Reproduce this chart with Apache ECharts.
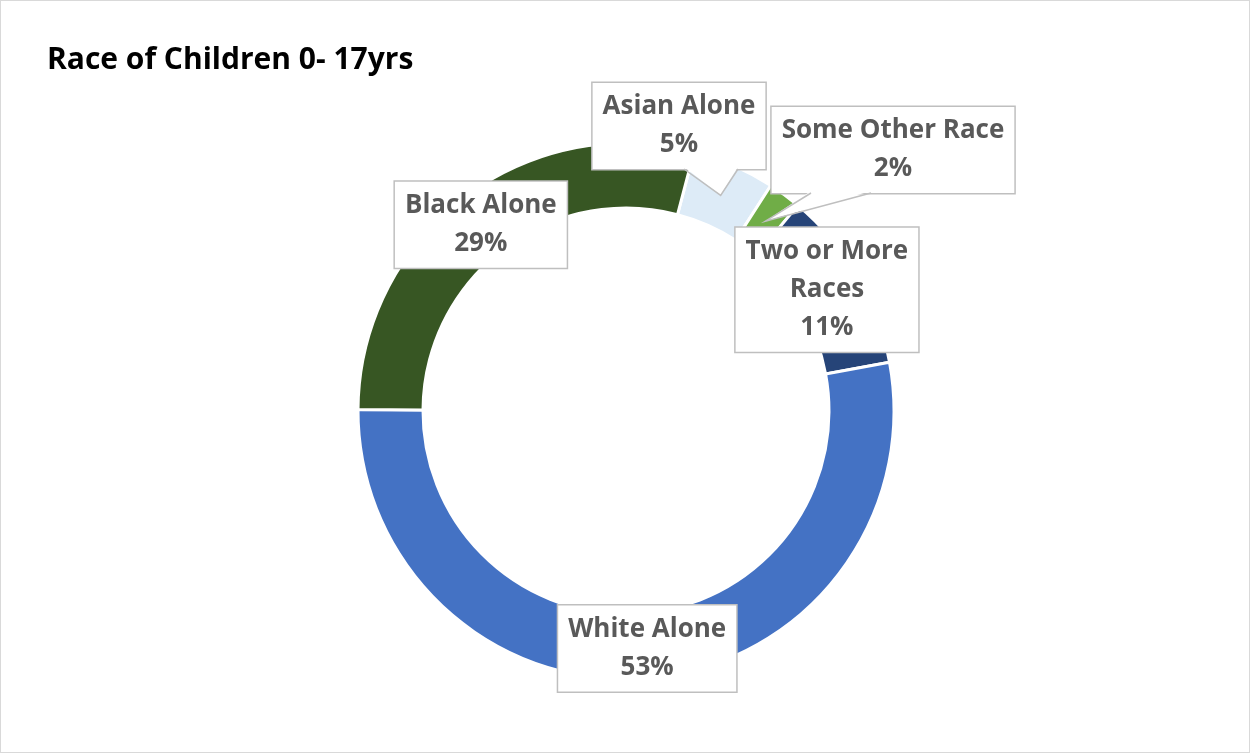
<!DOCTYPE html>
<html>
<head>
<meta charset="utf-8">
<script src="https://cdn.jsdelivr.net/npm/echarts@6/dist/echarts.min.js"></script>
<style>
html,body{margin:0;padding:0;background:#fff;}
#wrap{position:absolute;left:0;top:0;width:1250px;height:753px;box-sizing:border-box;border:1px solid #d9d9d9;}
#chart{width:100%;height:100%;}
</style>
</head>
<body>
<div id="wrap"><div id="chart"></div></div>
<script>
// Data (clockwise order starting near 12 o'clock)
const categories = ["Asian Alone", "Some Other Race", "Two or More Races", "White Alone", "Black Alone"];
const labelText = ["Asian Alone", "Some Other Race", "Two or More\nRaces", "White Alone", "Black Alone"];
const values = [5, 2, 11, 53, 29];
const colors = ["#DDEBF7", "#70AD47", "#264478", "#4472C4", "#375623"];
const title = "Race of Children 0- 17yrs";

const FONT = "'Open Sans', 'Noto Sans', sans-serif";

// geometry / layout settings
const CENTER = [625, 410];
const RADIUS = [203, 268];
const START_ANGLE = 75.3;
const LINE_H = 38, PAD_V = 5;
// callout labels: box centre, and pointer base offsets (x, from box centre)
const callouts = {
  0: {x: 678, y: 125, base: [5, 59]},
  1: {x: 892, y: 149, base: [-82, -22]}
};
const nudges = {2: [-5, -1], 4: [0, 3]};

const total = values.reduce((a, b) => a + b, 0);
function midPoint(idx) {
  let cum = 0;
  for (let i = 0; i < idx; i++) cum += values[i];
  const frac = (cum + values[idx] / 2) / total;
  const ang = (START_ANGLE - frac * 360) * Math.PI / 180;
  const r = (RADIUS[0] + RADIUS[1]) / 2;
  return [CENTER[0] + r * Math.cos(ang), CENTER[1] - r * Math.sin(ang)];
}

// callout pointers (wedges from label box to the slice)
const pointerGraphics = [];
Object.keys(callouts).forEach(k => {
  const i = +k, o = callouts[k];
  const lines = labelText[i].split('\n').length + 1;
  const bottom = o.y + (lines * LINE_H + 2 * PAD_V) / 2;
  const tip = midPoint(i);
  const b1 = [o.x + o.base[0], bottom], b2 = [o.x + o.base[1], bottom];
  pointerGraphics.push({
    type: 'polygon', z: 100, silent: true,
    shape: {points: [[b1[0], bottom - 2], tip, [b2[0], bottom - 2]]},
    style: {fill: '#ffffff', stroke: null}
  });
  pointerGraphics.push({
    type: 'polyline', z: 101, silent: true,
    shape: {points: [b1, tip, b2]},
    style: {fill: null, stroke: '#bfbfbf', lineWidth: 1.5}
  });
});

const data = categories.map((c, i) => ({name: c, value: values[i], itemStyle: {color: colors[i]}}));

const chart = echarts.init(document.getElementById('chart'), null, {renderer: 'canvas'});
chart.setOption({
  animation: false,
  backgroundColor: '#ffffff',
  title: {
    text: title, left: 41, top: 39,
    textStyle: {fontFamily: FONT, fontWeight: 'bold', fontSize: 30, color: '#000000'}
  },
  graphic: pointerGraphics,
  series: [{
    type: 'pie',
    center: CENTER,
    radius: RADIUS,
    startAngle: START_ANGLE,
    clockwise: true,
    avoidLabelOverlap: false,
    itemStyle: {borderColor: '#ffffff', borderWidth: 3},
    label: {
      show: true,
      position: 'inside',
      formatter: p => labelText[p.dataIndex] + '\n' + Math.round(p.percent) + '%',
      fontFamily: FONT, fontWeight: 'bold', fontSize: 26, color: '#595959',
      lineHeight: LINE_H, align: 'center',
      backgroundColor: '#ffffff', borderColor: '#bfbfbf', borderWidth: 1.5,
      padding: [PAD_V, 10, PAD_V, 10]
    },
    labelLine: {show: false},
    labelLayout: function (params) {
      const i = params.dataIndex;
      const o = callouts[i];
      if (o) return {x: o.x, y: o.y, align: 'center', verticalAlign: 'middle'};
      if (nudges[i]) return {dx: nudges[i][0], dy: nudges[i][1]};
      return {};
    },
    emphasis: {disabled: true},
    data: data
  }]
});
</script>
</body>
</html>
